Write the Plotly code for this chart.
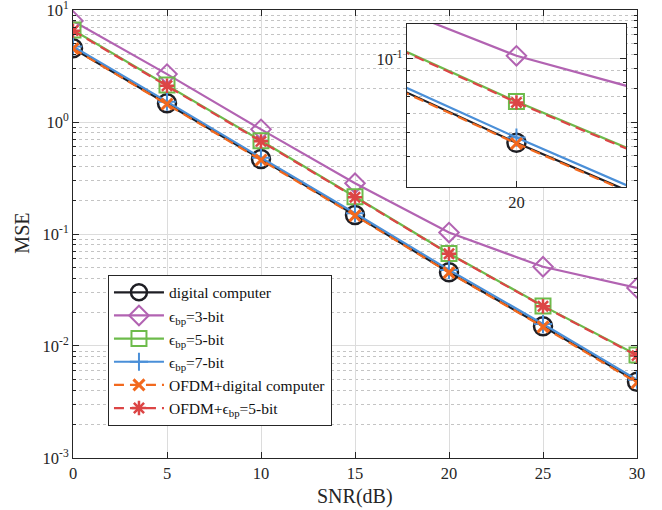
import plotly.graph_objects as go

# ---- data ----
snr = [0, 5, 10, 15, 20, 25, 30]
digital = [4.55, 1.47, 0.467, 0.148, 0.0455, 0.0150, 0.0048]
bit3 = [8.0, 2.68, 0.86, 0.284, 0.103, 0.051, 0.033]
bit5 = [6.63, 2.14, 0.68, 0.215, 0.067, 0.0228, 0.0083]
bit7 = [4.72, 1.52, 0.48, 0.153, 0.0478, 0.0157, 0.0050]
ofdm_digital = [4.52, 1.45, 0.458, 0.146, 0.0452, 0.0148, 0.0047]
ofdm_bit5 = [6.55, 2.11, 0.672, 0.213, 0.0665, 0.0226, 0.0082]

names = ["digital computer", "ϵ<sub>bp</sub>=3-bit", "ϵ<sub>bp</sub>=5-bit",
         "ϵ<sub>bp</sub>=7-bit", "OFDM+digital computer", "OFDM+ϵ<sub>bp</sub>=5-bit"]
series = [digital, bit3, bit5, bit7, ofdm_digital, ofdm_bit5]
colors = ["#1e1e24", "#B263B2", "#6DBB4B", "#4A8FD8", "#F2691E", "#DC4545"]
symbols = ["circle-open", "diamond-open", "square-open", "cross-thin-open",
           "x-thin-open", "asterisk-open"]
sizes = [18, 15, 15, 13, 11, 12]
mlw = [2.5, 2, 2, 2, 3, 2.5]
dashes = ["solid", "solid", "solid", "solid", "10px,6px", "10px,6px"]

y_major = [1e-3, 1e-2, 1e-1, 1, 10]
y_major_text = ["10<sup>-3</sup>", "10<sup>-2</sup>", "10<sup>-1</sup>",
                "10<sup>0</sup>", "10<sup>1</sup>"]
x_ticks = [0, 5, 10, 15, 20, 25, 30]
inset_x_ticks = [20]
inset_y_ticks = [1e-1]
inset_y_text = ["10<sup>-1</sup>"]
x_title = "SNR(dB)"
y_title = "MSE"

minor_vals = [m * 10.0 ** e for e in range(-3, 1) for m in range(2, 10)]

FONT = "Liberation Serif"
AX = "#262626"

fig = go.Figure()

for i in range(len(series)):
    fig.add_trace(go.Scatter(
        x=snr, y=series[i], name=names[i], mode="lines+markers",
        line=dict(color=colors[i], width=2.2, dash=dashes[i]),
        marker=dict(symbol=symbols[i], size=sizes[i], color=colors[i],
                    line=dict(color=colors[i], width=mlw[i])),
        xaxis="x", yaxis="y"))

for i in range(len(series)):
    fig.add_trace(go.Scatter(
        x=snr, y=series[i], name=names[i], mode="lines+markers", showlegend=False,
        line=dict(color=colors[i], width=2.2, dash=dashes[i]),
        marker=dict(symbol=symbols[i], size=sizes[i], color=colors[i],
                    line=dict(color=colors[i], width=mlw[i])),
        xaxis="x2", yaxis="y2"))

common_axis = dict(showline=True, linecolor=AX, linewidth=1, mirror="ticks",
                   ticks="inside", tickcolor=AX, tickwidth=1,
                   tickfont=dict(family=FONT, size=16.5, color="#262626"),
                   zeroline=False, automargin=False, ticklabeloverflow="allow")

fig.update_layout(
    width=662, height=510,
    margin=dict(l=73, r=25, t=10, b=52),
    paper_bgcolor="white", plot_bgcolor="white",
    font=dict(family=FONT, size=17, color="#262626"),
    showlegend=True,
    legend=dict(x=0.062, y=0.072, xanchor="left", yanchor="bottom",
                bgcolor="white", bordercolor="#262626", borderwidth=1,
                font=dict(family=FONT, size=15.5, color="#111"),
                itemwidth=50, tracegroupgap=0),
    xaxis=dict(range=[0, 30], tickvals=x_ticks, ticklen=6,
               showgrid=True, gridcolor="#DCDCDC", gridwidth=1,
               domain=[0, 1], anchor="y", **common_axis),
    yaxis=dict(type="log", range=[-3.0005, 1.0005], tickvals=y_major, ticktext=y_major_text,
               ticklen=6, showgrid=True, gridcolor="#DCDCDC", gridwidth=1,
               minor=dict(tickvals=minor_vals, ticks="inside", ticklen=3,
                          tickcolor=AX, showgrid=True, gridcolor="#C4C4C4",
                          griddash="dot", gridwidth=1),
               domain=[0, 1], anchor="x", **common_axis),
    xaxis2=dict(range=[18, 22], tickvals=inset_x_ticks, ticklen=6,
                showgrid=True, gridcolor="#DCDCDC", gridwidth=1,
                domain=[0.592, 0.9805], anchor="y2", **common_axis),
    yaxis2=dict(type="log", range=[-1.522, -0.857], tickvals=inset_y_ticks,
                ticktext=inset_y_text, ticklen=6, showgrid=True,
                gridcolor="#DCDCDC", gridwidth=1,
                minor=dict(tickvals=minor_vals, ticks="inside", ticklen=3,
                           tickcolor=AX, showgrid=True, gridcolor="#C4C4C4",
                           griddash="dot", gridwidth=1),
                domain=[0.605, 0.969], anchor="x2", **common_axis),
    annotations=[
        dict(text=x_title, xref="paper", yref="paper", x=0.5, y=-0.087,
             xanchor="center", yanchor="middle", showarrow=False,
             font=dict(family=FONT, size=20, color="#262626")),
        dict(text=y_title, xref="paper", yref="paper", x=-0.0895, y=0.502,
             xanchor="center", yanchor="middle", showarrow=False, textangle=-90,
             font=dict(family=FONT, size=20, color="#262626")),
    ],
)

fig.write_html("out.html", config={"displayModeBar": False},
               post_script="document.body.style.margin='0px';")
